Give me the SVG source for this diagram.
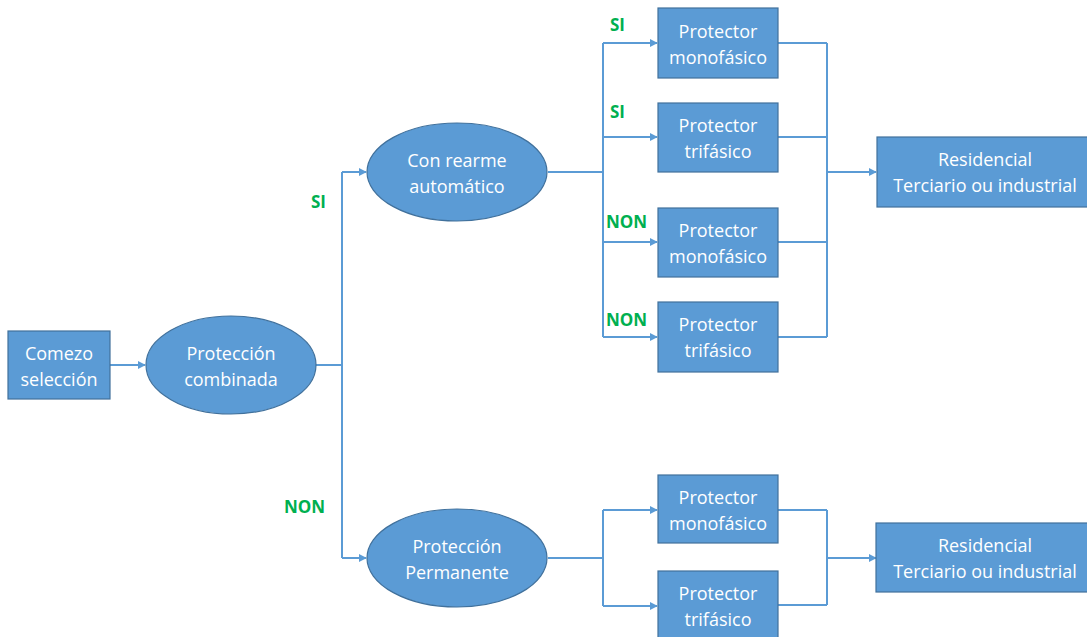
<svg xmlns="http://www.w3.org/2000/svg" width="1087" height="637" viewBox="0 0 1087 637">
  <style>
    .box { fill: #5B9BD5; stroke: #41719C; stroke-width: 1.2; }
    .lbl { fill: #ffffff; font-family: "Open Sans", "Liberation Sans", sans-serif; font-size: 18px; text-anchor: middle; }
    .ans { fill: #00B050; font-family: "Open Sans", "Liberation Sans", sans-serif; font-size: 17px; font-weight: bold; }
    .wire { fill: none; stroke: #5B9BD5; stroke-width: 2; }
    .arrow { marker-end: url(#head); }
  </style>
  <defs>
    <marker id="head" viewBox="0 0 10 10" refX="9" refY="5" markerWidth="4" markerHeight="4" orient="auto" markerUnits="strokeWidth">
      <path d="M0,0 L10,5 L0,10 z" fill="#5B9BD5"/>
    </marker>
  </defs>
  <rect width="1087" height="637" fill="#ffffff"/>

  <g id="connectors">
    <!-- start to first decision -->
    <path class="wire arrow" d="M110,365 H145"/>
    <!-- combined protection split -->
    <path class="wire" d="M316,365 H342 M342,172 V558"/>
    <path class="wire arrow" d="M342,172 H366"/>
    <path class="wire arrow" d="M342,558 H366"/>
    <!-- automatic reset branches -->
    <path class="wire" d="M548,172 H603 M603,43 V337"/>
    <path class="wire arrow" d="M603,43 H657"/>
    <path class="wire arrow" d="M603,137 H657"/>
    <path class="wire arrow" d="M603,242 H657"/>
    <path class="wire arrow" d="M603,337 H657"/>
    <path class="wire" d="M778,43 H827 M778,137 H827 M778,242 H827 M778,337 H827 M827,43 V337"/>
    <path class="wire arrow" d="M827,172 H876"/>
    <!-- permanent protection branches -->
    <path class="wire" d="M548,558 H603 M603,510 V606"/>
    <path class="wire arrow" d="M603,510 H657"/>
    <path class="wire arrow" d="M603,606 H657"/>
    <path class="wire" d="M778,510 H827 M778,605 H827 M827,510 V605"/>
    <path class="wire arrow" d="M827,558 H876"/>
  </g>

  <g id="answers">
    <text class="ans" x="311" y="208">SI</text>
    <text class="ans" x="284" y="513">NON</text>
    <text class="ans" x="610" y="31">SI</text>
    <text class="ans" x="610" y="118">SI</text>
    <text class="ans" x="606" y="228">NON</text>
    <text class="ans" x="606" y="326">NON</text>
  </g>

  <g id="start">
    <rect class="box" x="8" y="331" width="102" height="68"/>
    <text class="lbl" x="59" y="360">Comezo</text>
    <text class="lbl" x="59" y="386">selección</text>
  </g>

  <g id="combined">
    <ellipse class="box" cx="231" cy="365" rx="85" ry="49"/>
    <text class="lbl" x="231" y="360">Protección</text>
    <text class="lbl" x="231" y="386">combinada</text>
  </g>

  <g id="auto-reset">
    <ellipse class="box" cx="457" cy="172" rx="90" ry="49"/>
    <text class="lbl" x="457" y="167">Con rearme</text>
    <text class="lbl" x="457" y="193">automático</text>
  </g>

  <g id="permanent">
    <ellipse class="box" cx="457" cy="558" rx="90" ry="49"/>
    <text class="lbl" x="457" y="553">Protección</text>
    <text class="lbl" x="457" y="579">Permanente</text>
  </g>

  <g id="auto-mono-si">
    <rect class="box" x="658" y="8" width="120" height="70"/>
    <text class="lbl" x="718" y="38">Protector</text>
    <text class="lbl" x="718" y="64">monofásico</text>
  </g>

  <g id="auto-tri-si">
    <rect class="box" x="658" y="103" width="120" height="69"/>
    <text class="lbl" x="718" y="132">Protector</text>
    <text class="lbl" x="718" y="158">trifásico</text>
  </g>

  <g id="auto-mono-non">
    <rect class="box" x="658" y="208" width="120" height="69"/>
    <text class="lbl" x="718" y="237">Protector</text>
    <text class="lbl" x="718" y="263">monofásico</text>
  </g>

  <g id="auto-tri-non">
    <rect class="box" x="658" y="302" width="120" height="70"/>
    <text class="lbl" x="718" y="331">Protector</text>
    <text class="lbl" x="718" y="357">trifásico</text>
  </g>

  <g id="perm-mono">
    <rect class="box" x="658" y="475" width="120" height="68"/>
    <text class="lbl" x="718" y="504">Protector</text>
    <text class="lbl" x="718" y="530">monofásico</text>
  </g>

  <g id="perm-tri">
    <rect class="box" x="658" y="571" width="120" height="70"/>
    <text class="lbl" x="718" y="600">Protector</text>
    <text class="lbl" x="718" y="626">trifásico</text>
  </g>

  <g id="usage-auto">
    <rect class="box" x="877" y="137" width="214" height="70"/>
    <text class="lbl" x="985" y="166">Residencial</text>
    <text class="lbl" x="985" y="192">Terciario ou industrial</text>
  </g>

  <g id="usage-perm">
    <rect class="box" x="876" y="523" width="215" height="69"/>
    <text class="lbl" x="985" y="552">Residencial</text>
    <text class="lbl" x="985" y="578">Terciario ou industrial</text>
  </g>
</svg>
